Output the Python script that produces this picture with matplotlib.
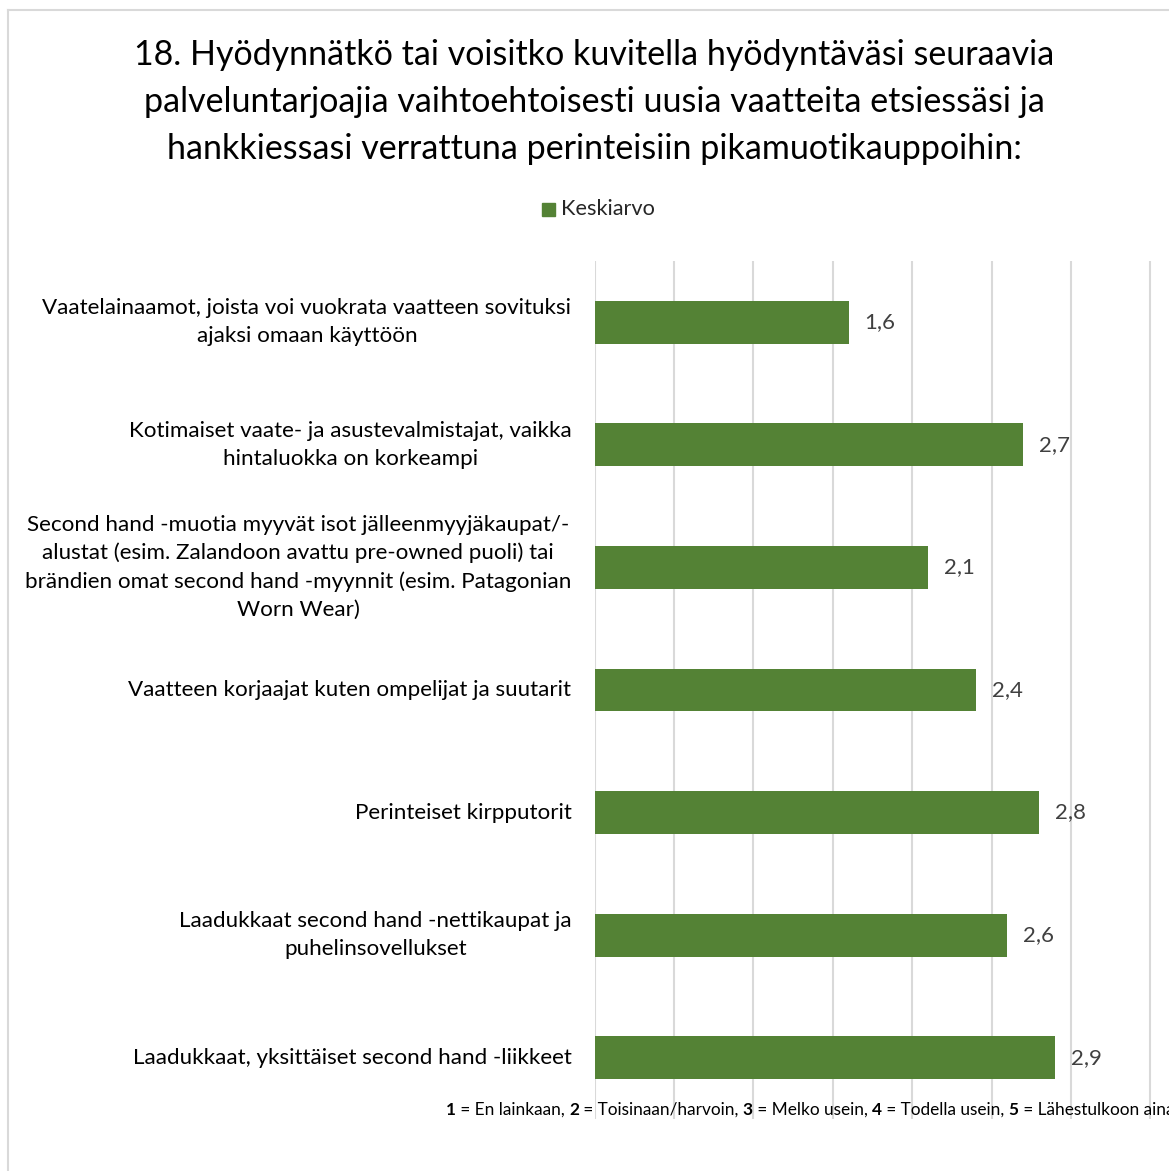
import matplotlib
matplotlib.use("Agg")
import matplotlib.pyplot as plt
from matplotlib.lines import Line2D
from matplotlib.patches import Rectangle

plt.rcParams['font.family'] = ['Lato', 'DejaVu Sans']

# data
categories = [
    "Vaatelainaamot, joista voi vuokrata vaatteen sovituksi\najaksi omaan käyttöön",
    "Kotimaiset vaate- ja asustevalmistajat, vaikka\nhintaluokka on korkeampi",
    "Second hand -muotia myyvät isot jälleenmyyjäkaupat/-\nalustat (esim. Zalandoon avattu pre-owned puoli) tai\nbrändien omat second hand -myynnit (esim. Patagonian\nWorn Wear)",
    "Vaatteen korjaajat kuten ompelijat ja suutarit",
    "Perinteiset kirpputorit",
    "Laadukkaat second hand -nettikaupat ja\npuhelinsovellukset",
    "Laadukkaat, yksittäiset second hand -liikkeet",
]
keskiarvo = [1.6, 2.7, 2.1, 2.4, 2.8, 2.6, 2.9]
series_name = "Keskiarvo"
title = ("18. Hyödynnätkö tai voisitko kuvitella hyödyntäväsi seuraavia\n"
         "palveluntarjoajia vaihtoehtoisesti uusia vaatteita etsiessäsi ja\n"
         "hankkiessasi verrattuna perinteisiin pikamuotikauppoihin:")
footnote = [("1", True), (" = En lainkaan, ", False), ("2", True), (" = Toisinaan/harvoin, ", False),
            ("3", True), (" = Melko usein, ", False), ("4", True), (" = Todella usein, ", False),
            ("5", True), (" = Lähestulkoon aina", False)]

W, H = 1169, 1171
fig = plt.figure(figsize=(W / 100, H / 100), dpi=100)

BAR = "#548235"
GRID = "#d9d9d9"

# chart frame (cropped on the right/bottom in the reference)
fig.add_artist(Line2D([8 / W, 8 / W], [0, 1 - 10 / H], color=GRID, lw=1.5, transform=fig.transFigure))
fig.add_artist(Line2D([8 / W, 1], [1 - 10 / H, 1 - 10 / H], color=GRID, lw=1.5, transform=fig.transFigure))

unit = 158.8
x_max = 4.0
ax = fig.add_axes([594.5 / W, 1 - 1119 / H, unit * x_max / W, (1119 - 261) / H])
y = list(range(len(categories)))
ax.barh(y, keskiarvo, height=0.35, color=BAR, zorder=3)
ax.set_xlim(0, x_max)
ax.set_ylim(len(categories) - 0.5, -0.5)
ax.set_xticks([i * 0.5 for i in range(int(x_max / 0.5) + 1)])
ax.xaxis.grid(True, color=GRID, lw=1.5, zorder=0)
ax.tick_params(axis='x', length=0, labelbottom=False)
ax.tick_params(axis='y', length=0, labelleft=False)
for s in ax.spines.values():
    s.set_visible(False)

for yi, (lab, v) in enumerate(zip(categories, keskiarvo)):
    ax.annotate(lab, (0, yi), xytext=(-23, 0), textcoords='offset pixels',
                ha='right', va='center', multialignment='center',
                fontsize=16.1, color='black', linespacing=1.5)
    ax.annotate(f"{v:.1f}".replace('.', ','), (v, yi), xytext=(16, 0), textcoords='offset pixels',
                ha='left', va='center', fontsize=16, color='#404040')

fig.text(594 / W, 1 - 102 / H, title, ha='center', va='center', fontsize=24.5,
         color='black', linespacing=1.56)

# legend
fig.add_artist(Rectangle((542 / W, 1 - 216 / H), 13 / W, 13 / H, color=BAR, transform=fig.transFigure))
fig.text(561 / W, 1 - 209 / H, series_name, ha='left', va='center', fontsize=15.7, color='#262626')

# footnote with bold digits
fig.canvas.draw()
r = fig.canvas.get_renderer()
xpix = 446
for txt, bold in footnote:
    t = fig.text(xpix / W, 1 - 1110 / H, txt, ha='left', va='center', fontsize=12.4,
                 fontweight='bold' if bold else 'normal', color='black')
    bb = t.get_window_extent(renderer=r)
    xpix += bb.width

fig.savefig("out.png", dpi=100)
